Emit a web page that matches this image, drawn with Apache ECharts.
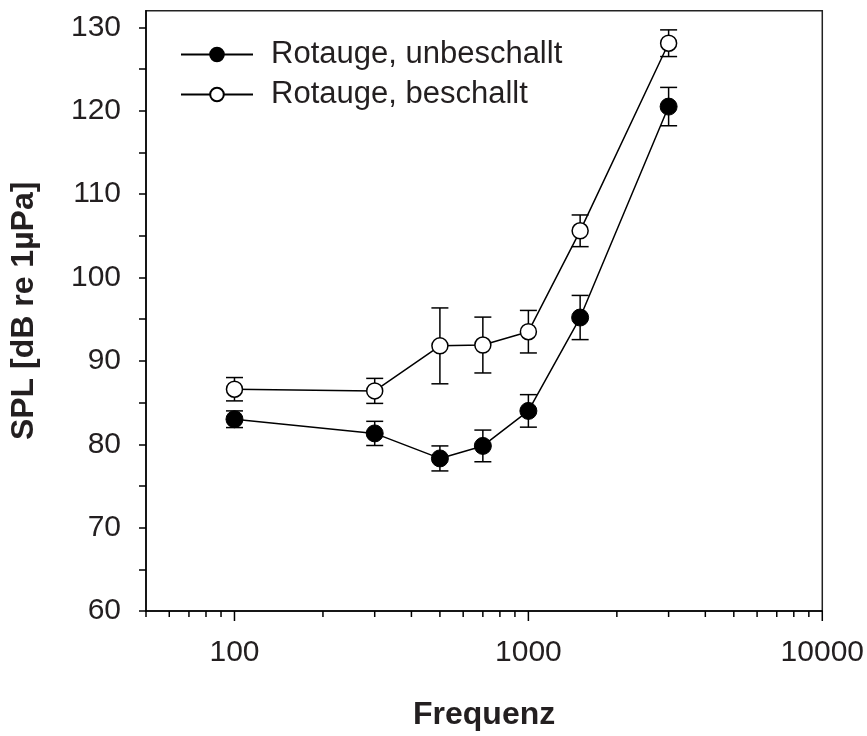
<!DOCTYPE html>
<html>
<head>
<meta charset="utf-8">
<script src="https://cdn.jsdelivr.net/npm/echarts@6/dist/echarts.min.js"></script>
<style>
html,body{margin:0;padding:0;background:#fff;}
#chart{width:867px;height:736px;}
</style>
</head>
<body>
<div id="chart"></div>
<script>
// ---- data ----
var freqs = [100, 300, 500, 700, 1000, 1500, 3000];
var unbeschallt = [83.0, 81.3, 78.3, 79.8, 84.0, 95.2, 120.5];
var unbeschalltErr = [1.0, 1.45, 1.5, 1.9, 1.95, 2.65, 2.3];
var beschallt = [86.6, 86.4, 91.8, 91.9, 93.5, 105.6, 128.1];
var beschalltErr = [1.4, 1.5, 4.55, 3.35, 2.55, 1.9, 1.6];
var seriesNames = ['Rotauge, unbeschallt', 'Rotauge, beschallt'];
var xMajorTicks = [100, 1000, 10000];
var xMinorTicks = [50, 60, 70, 80, 90, 200, 300, 400, 500, 600, 700, 800, 900,
                   2000, 3000, 4000, 5000, 6000, 7000, 8000, 9000];
var yTickLabels = [60, 70, 80, 90, 100, 110, 120, 130];
var yTicks = [60, 65, 70, 75, 80, 85, 90, 95, 100, 105, 110, 115, 120, 125, 130];
var xName = 'Frequenz';
var yName = 'SPL [dB re 1µPa]';

var FONT = '"Liberation Sans", Arial, Helvetica, sans-serif';
var TXT = '#231f20';
var Y_MIN = 60, Y_MAX = 132, X_MIN = 50, X_MAX = 10000;

function pairs(xs, ys) { return xs.map(function (x, i) { return [x, ys[i]]; }); }
function errData(xs, ys, es) { return xs.map(function (x, i) { return [x, ys[i] - es[i], ys[i] + es[i]]; }); }

function errRender(params, api) {
  var x = api.value(0);
  var lo = api.coord([x, api.value(1)]);
  var hi = api.coord([x, api.value(2)]);
  var hw = 8.5;
  var st = { stroke: '#000', lineWidth: 1.5 };
  return {
    type: 'group',
    children: [
      { type: 'line', shape: { x1: lo[0], y1: lo[1], x2: hi[0], y2: hi[1] }, style: st },
      { type: 'line', shape: { x1: lo[0] - hw, y1: lo[1], x2: lo[0] + hw, y2: lo[1] }, style: st },
      { type: 'line', shape: { x1: hi[0] - hw, y1: hi[1], x2: hi[0] + hw, y2: hi[1] }, style: st }
    ]
  };
}
function tickRender(len) {
  return function (params, api) {
    var p = api.coord([api.value(0), Y_MIN]);
    return { type: 'line', shape: { x1: p[0], y1: p[1], x2: p[0], y2: p[1] + len },
             style: { stroke: '#000', lineWidth: 1.5 } };
  };
}

var chart = echarts.init(document.getElementById('chart'), null, { renderer: 'canvas' });
chart.setOption({
  animation: false,
  backgroundColor: '#fff',
  grid: { left: 143.3, right: 43.7, top: 10.7, bottom: 120.7, show: true,
          borderColor: '#222', borderWidth: 1.5, backgroundColor: 'transparent' },
  legend: {
    data: seriesNames,
    orient: 'vertical', left: 175, top: 34,
    itemWidth: 72, itemHeight: 17, itemGap: 9,
    textStyle: { fontFamily: FONT, fontSize: 31, color: TXT, padding: [0, 0, 0, 13] },
    selectedMode: false
  },
  xAxis: {
    type: 'log', logBase: 10, min: X_MIN, max: X_MAX,
    name: xName, nameLocation: 'middle', nameGap: 88,
    nameTextStyle: { fontFamily: FONT, fontSize: 32, fontWeight: 'bold', color: TXT },
    axisLine: { lineStyle: { color: '#000', width: 1.5 } },
    axisTick: { show: false },
    splitLine: { show: false },
    axisLabel: {
      margin: 27, fontFamily: FONT, fontSize: 30, color: TXT,
      formatter: function (v) { return xMajorTicks.indexOf(Math.round(v)) >= 0 ? String(Math.round(v)) : ''; }
    }
  },
  yAxis: {
    type: 'value', min: Y_MIN, max: Y_MAX,
    name: yName, nameLocation: 'middle', nameGap: 106,
    nameTextStyle: { fontFamily: FONT, fontSize: 32, fontWeight: 'bold', color: TXT },
    axisLine: { lineStyle: { color: '#000', width: 1.5 } },
    axisTick: { show: true, length: 7, customValues: yTicks, lineStyle: { color: '#000', width: 1.5 } },
    splitLine: { show: false },
    axisLabel: { margin: 25, fontFamily: FONT, fontSize: 30, color: TXT, customValues: yTickLabels }
  },
  series: [
    { type: 'custom', name: 'xMajor', data: xMajorTicks.map(function (v) { return [v]; }),
      renderItem: tickRender(10), clip: false, silent: true, encode: { x: 0 }, z: 5 },
    { type: 'custom', name: 'xMinor', data: xMinorTicks.map(function (v) { return [v]; }),
      renderItem: tickRender(6), clip: false, silent: true, encode: { x: 0 }, z: 5 },
    { type: 'custom', name: 'errU', data: errData(freqs, unbeschallt, unbeschalltErr),
      renderItem: errRender, clip: false, silent: true, encode: { x: 0, y: [1, 2] }, z: 1 },
    { type: 'custom', name: 'errB', data: errData(freqs, beschallt, beschalltErr),
      renderItem: errRender, clip: false, silent: true, encode: { x: 0, y: [1, 2] }, z: 1 },
    { type: 'line', name: seriesNames[0], data: pairs(freqs, unbeschallt),
      symbol: 'circle', symbolSize: 17, z: 3,
      lineStyle: { color: '#000', width: 1.5 },
      itemStyle: { color: '#000', borderColor: '#000', borderWidth: 1 } },
    { type: 'line', name: seriesNames[1], data: pairs(freqs, beschallt),
      symbol: 'circle', symbolSize: 16, z: 3,
      lineStyle: { color: '#000', width: 1.5 },
      itemStyle: { color: '#fff', borderColor: '#000', borderWidth: 1.5 } }
  ]
});
</script>
</body>
</html>
